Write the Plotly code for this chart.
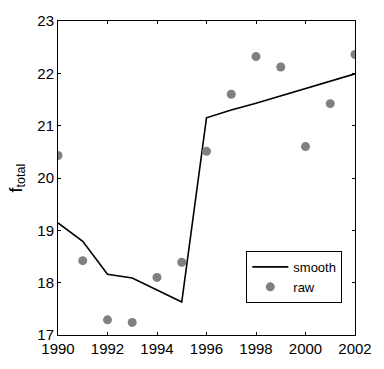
import plotly.graph_objects as go

years = list(range(1990, 2003))
raw = [20.43, 18.42, 17.29, 17.24, 18.10, 18.39, 20.51, 21.60, 22.32, 22.12, 20.60, 21.42, 22.36]
smooth = [19.14, 18.79, 18.16, 18.09, 17.86, 17.63, 21.15, 21.30, 21.43, 21.57, 21.71, 21.84, 21.99]
x_ticks = [1990, 1992, 1994, 1996, 1998, 2000, 2002]
y_ticks = [17, 18, 19, 20, 21, 22, 23]

fig = go.Figure()
fig.add_trace(go.Scatter(x=years, y=smooth, mode="lines", name="smooth",
                         line=dict(color="black", width=1.6)))
fig.add_trace(go.Scatter(x=years, y=raw, mode="markers", name="raw",
                         marker=dict(color="#808080", size=9)))

font = dict(family="Liberation Sans, Arial, sans-serif", size=15, color="black")
fig.update_layout(
    width=384, height=369,
    margin=dict(l=58, r=17, t=14, b=22),
    plot_bgcolor="white", paper_bgcolor="white",
    font=font,
    showlegend=True,
    legend=dict(x=0.634, y=0.102, xanchor="left", yanchor="bottom",
                bordercolor="black", borderwidth=1, bgcolor="white",
                font=dict(family="Liberation Sans, Arial, sans-serif", size=13),
                itemwidth=36, tracegroupgap=0),
    xaxis=dict(range=[1990, 2002], tickvals=x_ticks, ticks="inside", ticklen=3,
               mirror="ticks", showline=True, linecolor="black", linewidth=1,
               showgrid=False, zeroline=False, tickcolor="black"),
    yaxis=dict(range=[17, 23], tickvals=y_ticks, ticks="inside", ticklen=3,
               mirror="ticks", showline=True, linecolor="black", linewidth=1,
               showgrid=False, zeroline=False, tickcolor="black",
               title=dict(text="f<sub>total</sub>", standoff=10)),
)
fig.write_html("out.html")
